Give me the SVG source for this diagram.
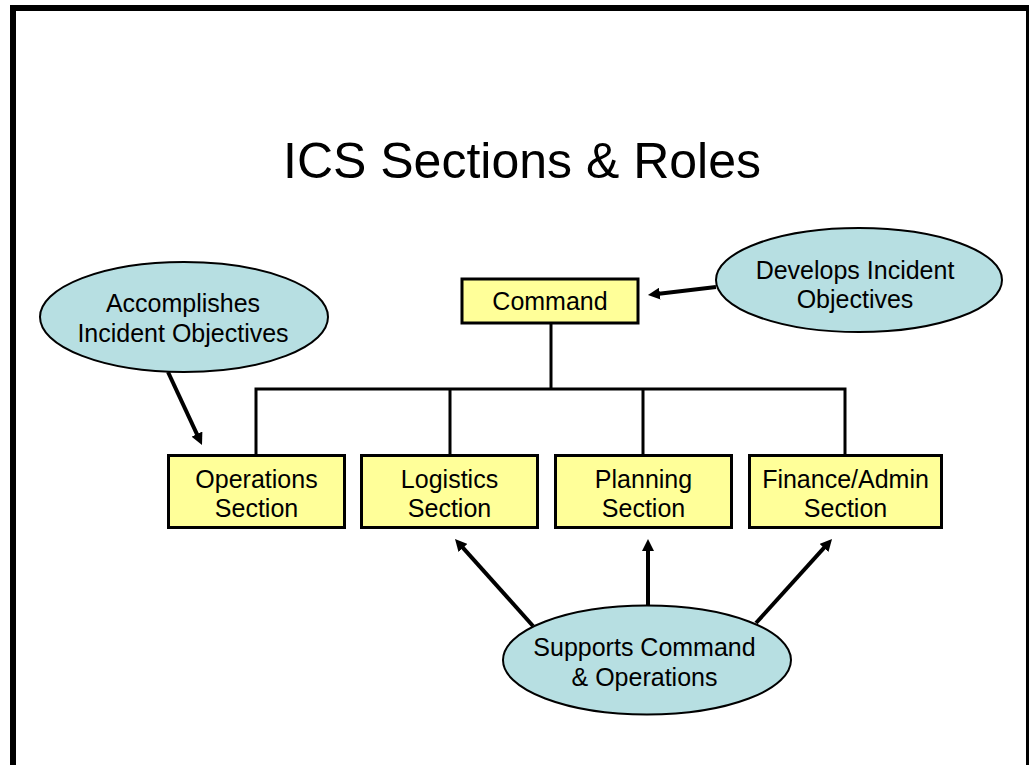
<svg xmlns="http://www.w3.org/2000/svg" width="1029" height="765" viewBox="0 0 1029 765">
<style>
text{font-family:"Liberation Sans",Arial,sans-serif;fill:#000;text-anchor:middle}
.lbl{font-size:25px}
.box{fill:#FFFF99;stroke:#000;stroke-width:3}
.oval{fill:#B7DFE2;stroke:#000;stroke-width:2}
.tree{fill:none;stroke:#000;stroke-width:3}
.arr{fill:none;stroke:#000;stroke-width:4;marker-end:url(#ah)}
</style>
<defs>
<marker id="ah" viewBox="0 0 12 12" refX="3" refY="6" markerWidth="12" markerHeight="12" markerUnits="userSpaceOnUse" orient="auto">
<path d="M0,0 L12,6 L0,12 z" fill="#000"/>
</marker>
</defs>
<rect x="0" y="0" width="1029" height="765" fill="#fff"/>
<rect x="13" y="8" width="1016" height="800" fill="none" stroke="#000" stroke-width="6"/>
<text x="522" y="178" font-size="50">ICS Sections &amp; Roles</text>
<g id="connectors">
<path class="tree" d="M551,323 V389"/>
<path class="tree" d="M256,455 V389 H845 V455 M450,389 V455 M643,389 V455"/>
<line class="arr" x1="168" y1="372" x2="198.2" y2="436.8"/>
<line class="arr" x1="716" y1="287" x2="656.9" y2="293.9"/>
<line class="arr" x1="533" y1="626" x2="461" y2="545.7"/>
<line class="arr" x1="648" y1="606" x2="648" y2="548"/>
<line class="arr" x1="756" y1="623" x2="826" y2="545.7"/>
</g>
<g id="command">
<rect class="box" x="462" y="279" width="176" height="44"/>
<text class="lbl" x="550" y="310">Command</text>
</g>
<g id="operations">
<rect class="box" x="168.5" y="455.5" width="176" height="72"/>
<text class="lbl" x="256.5" y="488">Operations</text>
<text class="lbl" x="256.5" y="517">Section</text>
</g>
<g id="logistics">
<rect class="box" x="361.5" y="455.5" width="176" height="72"/>
<text class="lbl" x="449.5" y="488">Logistics</text>
<text class="lbl" x="449.5" y="517">Section</text>
</g>
<g id="planning">
<rect class="box" x="555.5" y="455.5" width="176" height="72"/>
<text class="lbl" x="643.5" y="488">Planning</text>
<text class="lbl" x="643.5" y="517">Section</text>
</g>
<g id="finance">
<rect class="box" x="749.5" y="455.5" width="192" height="72"/>
<text class="lbl" x="845.5" y="488">Finance/Admin</text>
<text class="lbl" x="845.5" y="517">Section</text>
</g>
<g id="accomplishes">
<ellipse class="oval" cx="184" cy="317" rx="144" ry="55"/>
<text class="lbl" x="183" y="312">Accomplishes</text>
<text class="lbl" x="183" y="342">Incident Objectives</text>
</g>
<g id="develops">
<ellipse class="oval" cx="859" cy="280" rx="143" ry="52"/>
<text class="lbl" x="855" y="279">Develops Incident</text>
<text class="lbl" x="855" y="308">Objectives</text>
</g>
<g id="supports">
<ellipse class="oval" cx="647" cy="660" rx="144" ry="54.5"/>
<text class="lbl" x="644.5" y="656">Supports Command</text>
<text class="lbl" x="644.5" y="686">&amp; Operations</text>
</g>
</svg>
